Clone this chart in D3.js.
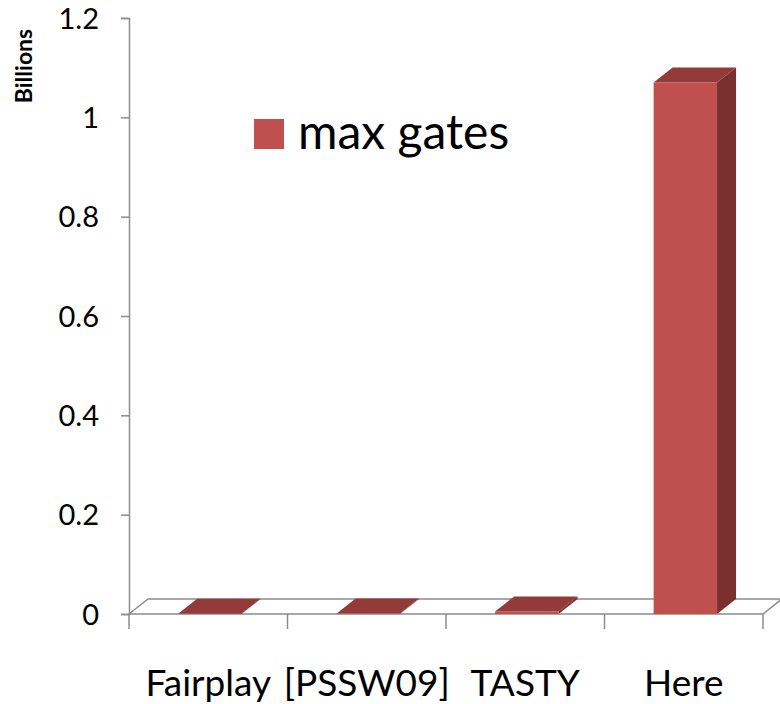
<!DOCTYPE html>
<html>
<head>
<meta charset="utf-8">
<script src="https://cdn.jsdelivr.net/npm/d3@7"></script>
<style>
  body { margin: 0; background: #fff; }
  text { font-family: Lato, "Open Sans", sans-serif; fill: #000; }
</style>
</head>
<body>
<div id="chart"></div>
<script>
// data (billions of gates)
const categories = ["Fairplay", "[PSSW09]", "TASTY", "Here"];
const maxGates = [0.0003, 0.0008, 0.005, 1.07];
const yTicks = [0, 0.2, 0.4, 0.6, 0.8, 1, 1.2];
const seriesName = "max gates";

const width = 780, height = 704;
const depth = {dx: 19, dy: -15};   // 3D offset of the back plane

const svg = d3.select("#chart").append("svg")
    .attr("width", width)
    .attr("height", height);

const x = d3.scaleBand().domain(categories).range([129, 763]);
const y = d3.scaleLinear().domain([0, 1.2]).range([614, 18]);

const axisColor = "#8c8c8c";

// floor
const x0 = x.range()[0], x1 = x.range()[1], y0 = y(0);
svg.append("path")
    .attr("d", `M${x0},${y0} L${x0 + depth.dx},${y0 + depth.dy} L${x1 + depth.dx},${y0 + depth.dy} L${x1},${y0} Z`)
    .attr("fill", "none")
    .attr("stroke", axisColor)
    .attr("stroke-width", 1.5);

// y axis
const yAxis = svg.append("g")
    .attr("transform", `translate(${x0},0)`)
    .call(d3.axisLeft(y).tickValues(yTicks).tickSize(8).tickPadding(22)
        .tickFormat(d => d3.format("~g")(d)));
yAxis.select(".domain").attr("stroke", axisColor).attr("stroke-width", 1.5);
yAxis.selectAll(".tick line").attr("stroke", axisColor).attr("stroke-width", 1.5);
yAxis.selectAll(".tick text")
    .style("font-size", "29px")
    .attr("dy", "0.35em");

// category ticks
const catTicks = categories.map(c => x(c)).concat([x1]);
svg.selectAll(".cat-tick")
    .data(catTicks)
    .enter().append("line")
    .attr("x1", d => d).attr("x2", d => d)
    .attr("y1", y0).attr("y2", y0 + 15)
    .attr("stroke", axisColor)
    .attr("stroke-width", 1.5);

// category labels
svg.selectAll(".cat-label")
    .data(categories)
    .enter().append("text")
    .attr("x", d => x(d) + x.bandwidth() / 2)
    .attr("y", 696)
    .attr("text-anchor", "middle")
    .style("font-size", "37px")
    .text(d => d);

// 3D bars
const barW = x.bandwidth() * 0.4;
const bars = svg.selectAll(".bar")
    .data(categories.map((c, i) => ({c: c, v: maxGates[i]})))
    .enter().append("g");

bars.each(function(d) {
    const g = d3.select(this);
    const bx = x(d.c) + x.bandwidth() * 0.31;
    const top = y(d.v);
    // side
    g.append("path")
        .attr("d", `M${bx + barW},${y0} L${bx + barW + depth.dx},${y0 + depth.dy} L${bx + barW + depth.dx},${top + depth.dy} L${bx + barW},${top} Z`)
        .attr("fill", "#7a302f");
    // front
    g.append("rect")
        .attr("x", bx).attr("y", top)
        .attr("width", barW).attr("height", y0 - top)
        .attr("fill", "#c0504d");
    // top
    g.append("path")
        .attr("d", `M${bx},${top} L${bx + depth.dx},${top + depth.dy} L${bx + barW + depth.dx},${top + depth.dy} L${bx + barW},${top} Z`)
        .attr("fill", "#933b39");
});

// y axis unit label
svg.append("text")
    .attr("transform", "translate(32,66) rotate(-90)")
    .attr("text-anchor", "middle")
    .style("font-size", "23px")
    .style("font-weight", "bold")
    .text("Billions");

// legend
const legend = svg.append("g").attr("transform", "translate(254,119)");
legend.append("rect")
    .attr("width", 30).attr("height", 30)
    .attr("fill", "#c0504d");
legend.append("text")
    .attr("x", 44).attr("y", 30)
    .style("font-size", "48px")
    .text(seriesName);
</script>
</body>
</html>
